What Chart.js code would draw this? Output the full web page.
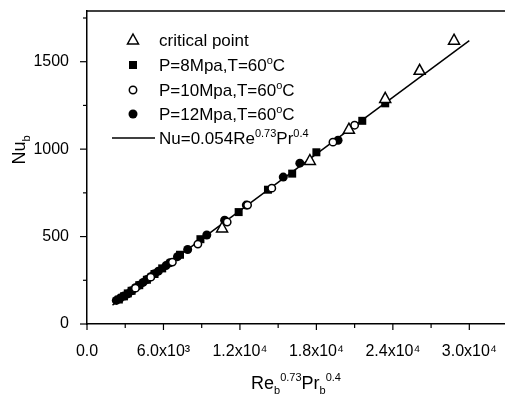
<!DOCTYPE html>
<html>
<head>
<meta charset="utf-8">
<script src="https://cdn.jsdelivr.net/npm/chart.js@4.4.0/dist/chart.umd.min.js"></script>
<style>
html, body { margin: 0; padding: 0; background: #fff; }
#wrap { width: 505px; height: 396px; }
</style>
</head>
<body>
<div id="wrap"><canvas id="chart"></canvas></div>
<script>
// data
var critX = [10600, 17490, 20550, 23400, 26100, 28800];
var critY = [549, 935, 1114, 1290, 1451, 1623];

var p8X = [2500, 2900, 3200, 3500, 4100, 4700, 5300, 5900, 7300, 8900, 11900, 14200, 16100, 18000, 21600, 23400];
var p8Y = [140, 158, 175, 190, 222, 253, 286, 318, 396, 485, 640, 768, 860, 982, 1162, 1262];

var p10X = [3800, 5000, 6700, 8700, 11000, 12600, 14500, 19300, 21000];
var p10Y = [205, 268, 354, 457, 583, 680, 777, 1040, 1137];

var p12X = [2300, 2600, 2900, 3200, 3500, 3800, 4100, 4400, 4700, 5000, 5300, 5600, 6200, 6500, 7100, 7900, 9400, 10800, 12500, 15400, 16700, 19700];
var p12Y = [135, 148, 160, 172, 190, 207, 222, 238, 255, 270, 288, 302, 334, 350, 385, 426, 509, 594, 680, 840, 920, 1051];

var fitX = [2000, 30000];
var fitY = [108, 1620];

var xTickVals = [0, 6000, 12000, 18000, 24000, 30000];
var xTickText = ['0.0', '6.0x10³', '1.2x10⁴', '1.8x10⁴', '2.4x10⁴', '3.0x10⁴'];
var yTickVals = [0, 500, 1000, 1500];
var yTickText = ['0', '500', '1000', '1500'];

function pts(xs, ys) {
  return xs.map(function (x, i) { return {x: x, y: ys[i]}; });
}

var FONT = '"Liberation Sans", Arial, sans-serif';

// text with sub/superscripts
function richWidth(ctx, parts, size) {
  var w = 0;
  parts.forEach(function (p) {
    ctx.font = (p[1] ? Math.round(size * 0.62) : size) + 'px ' + FONT;
    w += ctx.measureText(p[0]).width;
  });
  return w;
}
function drawRich(ctx, parts, x, y, size) {
  parts.forEach(function (p) {
    var s = p[1] ? Math.round(size * 0.62) : size;
    var dy = p[1] === 'sup' ? -size * 0.42 : (p[1] === 'sub' ? size * 0.3 : 0);
    ctx.font = s + 'px ' + FONT;
    ctx.fillText(p[0], x, y + dy);
    x += ctx.measureText(p[0]).width;
  });
}

function marker(ctx, kind, x, y) {
  ctx.save();
  ctx.lineWidth = 1.5;
  ctx.strokeStyle = '#000';
  ctx.fillStyle = '#000';
  ctx.beginPath();
  if (kind === 'tri') {
    ctx.moveTo(x, y - 6); ctx.lineTo(x + 5.5, y + 4); ctx.lineTo(x - 5.5, y + 4); ctx.closePath();
    ctx.fillStyle = '#fff'; ctx.fill(); ctx.stroke();
  } else if (kind === 'sq') {
    ctx.rect(x - 4, y - 4, 8, 8); ctx.fill();
  } else if (kind === 'oc') {
    ctx.arc(x, y, 3.7, 0, Math.PI * 2); ctx.fillStyle = '#fff'; ctx.fill(); ctx.stroke();
  } else if (kind === 'fc') {
    ctx.arc(x, y, 4.5, 0, Math.PI * 2); ctx.fill();
  }
  ctx.restore();
}

var decor = {
  id: 'decor',
  afterDraw: function (chart) {
    var ctx = chart.ctx, a = chart.chartArea;
    var xs = chart.scales.x, ys = chart.scales.y;
    ctx.save();
    ctx.strokeStyle = '#000';
    ctx.fillStyle = '#000';
    ctx.lineWidth = 1.5;
    // top frame line
    ctx.beginPath(); ctx.moveTo(a.left, a.top); ctx.lineTo(a.right, a.top); ctx.stroke();
    // tick marks
    ctx.lineWidth = 1.2;
    for (var v = 0; v <= 30000; v += 3000) {
      var px = xs.getPixelForValue(v);
      var len = v % 6000 === 0 ? 6 : 4;
      ctx.beginPath(); ctx.moveTo(px, a.bottom); ctx.lineTo(px, a.bottom + len); ctx.stroke();
    }
    for (var w = 0; w <= 1750; w += 250) {
      var py = ys.getPixelForValue(w);
      var l2 = w % 500 === 0 ? 7 : 4;
      ctx.beginPath(); ctx.moveTo(a.left, py); ctx.lineTo(a.left - l2, py); ctx.stroke();
    }

    // axis titles
    ctx.textBaseline = 'alphabetic';
    ctx.textAlign = 'left';
    var xt = [['Re'], ['b', 'sub'], ['0.73', 'sup'], ['Pr'], ['b', 'sub'], ['0.4', 'sup']];
    var xw = richWidth(ctx, xt, 18);
    drawRich(ctx, xt, 296 - xw / 2, 389, 18);

    ctx.save();
    ctx.translate(25, 150);
    ctx.rotate(-Math.PI / 2);
    var yt = [['Nu'], ['b', 'sub']];
    var yw = richWidth(ctx, yt, 18);
    drawRich(ctx, yt, -yw / 2, 0, 18);
    ctx.restore();

    // legend
    var rows = [
      ['tri', [['critical point']]],
      ['sq', [['P=8Mpa,T=60'], ['o', 'sup'], ['C']]],
      ['oc', [['P=10Mpa,T=60'], ['o', 'sup'], ['C']]],
      ['fc', [['P=12Mpa,T=60'], ['o', 'sup'], ['C']]],
      ['line', [['Nu=0.054Re'], ['0.73', 'sup'], ['Pr'], ['0.4', 'sup']]]
    ];
    var rowY = [40, 65, 90, 114, 138];
    rows.forEach(function (r, i) {
      var y = rowY[i];
      if (r[0] === 'line') {
        ctx.lineWidth = 1.5;
        ctx.beginPath(); ctx.moveTo(112, y); ctx.lineTo(155, y); ctx.stroke();
      } else {
        marker(ctx, r[0], 133, y);
      }
      ctx.fillStyle = '#000';
      drawRich(ctx, r[1], 159, y + 6, 17);
    });
    ctx.restore();
  }
};

var shapes = {
  id: 'shapes',
  afterDatasetsDraw: function (chart) {
    var ctx = chart.ctx;
    chart.data.datasets.forEach(function (ds, i) {
      if (!ds.kind) return;
      chart.getDatasetMeta(i).data.forEach(function (el) {
        marker(ctx, ds.kind, el.x, el.y);
      });
    });
  }
};

new Chart(document.getElementById('chart').getContext('2d'), {
  type: 'scatter',
  data: {
    datasets: [
      {label: 'fit', data: pts(fitX, fitY), showLine: true, borderColor: '#000', borderWidth: 1.5, pointRadius: 0},
      {label: 'P=12', kind: 'fc', data: pts(p12X, p12Y), pointRadius: 0},
      {label: 'P=8', kind: 'sq', data: pts(p8X, p8Y), pointRadius: 0},
      {label: 'P=10', kind: 'oc', data: pts(p10X, p10Y), pointRadius: 0},
      {label: 'critical point', kind: 'tri', data: pts(critX, critY), pointRadius: 0}
    ]
  },
  options: {
    responsive: true,
    maintainAspectRatio: false,
    animation: false,
    layout: {padding: {top: 11, right: 0, left: 0, bottom: 0}},
    plugins: {legend: {display: false}, tooltip: {enabled: false}},
    scales: {
      x: {
        type: 'linear', min: 0, max: 32800,
        grid: {display: false},
        border: {display: true, color: '#000', width: 1.5},
        afterBuildTicks: function (s) {
          s.ticks = xTickVals.map(function (v) { return {value: v}; });
        },
        ticks: {
          autoSkip: false, maxRotation: 0, padding: 10,
          color: '#000', font: {family: FONT, size: 16},
          callback: function (v) { return xTickText[xTickVals.indexOf(v)]; }
        },
        afterFit: function (s) { s.height = 72; s.paddingLeft = 0; s.paddingRight = 0; }
      },
      y: {
        type: 'linear', min: 0, max: 1790,
        grid: {display: false},
        border: {display: true, color: '#000', width: 1.5},
        afterBuildTicks: function (s) {
          s.ticks = yTickVals.map(function (v) { return {value: v}; });
        },
        ticks: {
          autoSkip: false, padding: 10,
          color: '#000', font: {family: FONT, size: 16},
          callback: function (v) { return yTickText[yTickVals.indexOf(v)]; }
        },
        afterFit: function (s) { s.width = 87; s.paddingTop = 0; s.paddingBottom = 0; }
      }
    }
  },
  plugins: [decor, shapes]
});
</script>
</body>
</html>
